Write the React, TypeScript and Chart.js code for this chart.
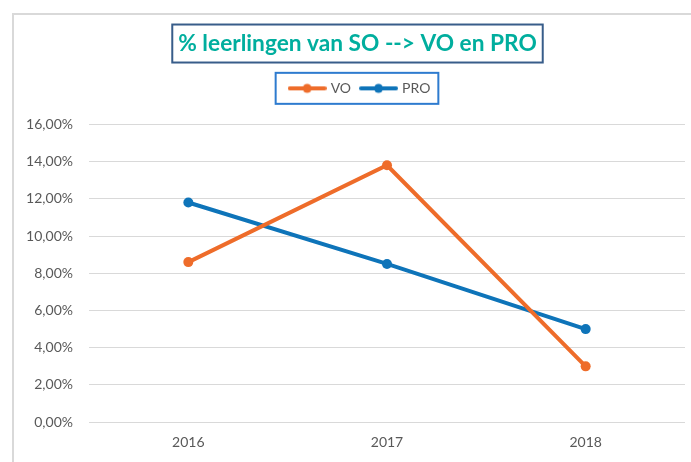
import React, { useEffect, useRef } from "react";
import { Chart, registerables } from "chart.js";

Chart.register(...registerables);

const categories = ["2016", "2017", "2018"];
const seriesNames = ["VO", "PRO"];
const voValues = [0.086, 0.138, 0.03];
const proValues = [0.118, 0.085, 0.05];
const yMin = 0;
const yMax = 0.16;
const yStep = 0.02;
const titleText = "% leerlingen van SO --> VO en PRO";

const ORANGE = "#EE6C2A";
const BLUE = "#0E74B9";
const FONT = "Lato, 'Open Sans', sans-serif";
const TITLE_SIZE = 22.7;
const TITLE_PAD_TOP = 15.9;
const TICK_COLOR = "#595959";
const SHIFT = 8;
const LEGEND_SHIFT = 11;

function makeMarker(color: string): HTMLCanvasElement {
  const c = document.createElement("canvas");
  c.width = 39;
  c.height = 12;
  const g = c.getContext("2d")!;
  g.strokeStyle = color;
  g.lineWidth = 4;
  g.lineCap = "round";
  g.beginPath();
  g.moveTo(2, 6);
  g.lineTo(37, 6);
  g.stroke();
  g.fillStyle = color;
  g.beginPath();
  g.arc(19.5, 6, 4.5, 0, Math.PI * 2);
  g.fill();
  return c;
}

function shiftDraw(box: any, dx: number) {
  if (!box) return;
  const orig = box.draw;
  box.draw = function (...args: any[]) {
    const ctx = this.ctx;
    ctx.save();
    ctx.translate(dx, 0);
    orig.apply(this, args);
    ctx.restore();
  };
}

export default function App() {
  const ref = useRef<HTMLCanvasElement | null>(null);

  useEffect(() => {
    if (!ref.current) return;
    const markers = [makeMarker(ORANGE), makeMarker(BLUE)];

    const boxesPlugin = {
      id: "boxes",
      beforeInit(chart: any) {
        const legend = chart.legend;
        if (legend) {
          const orig = legend.fit;
          legend.fit = function () {
            orig.call(this);
            this.height += 19;
          };
          shiftDraw(legend, LEGEND_SHIFT);
        }
        shiftDraw(chart.titleBlock, SHIFT);
      },
      beforeDraw(chart: any) {
        const ctx = chart.ctx;
        ctx.save();
        ctx.fillStyle = "#ffffff";
        ctx.fillRect(0, 0, chart.width, chart.height);
        ctx.strokeStyle = "#D9D9D9";
        ctx.lineWidth = 2;
        ctx.beginPath();
        ctx.moveTo(13, chart.height + 2);
        ctx.lineTo(13, 14);
        ctx.lineTo(chart.width + 2, 14);
        ctx.stroke();
        ctx.restore();
      },
      afterDraw(chart: any) {
        const ctx = chart.ctx;
        ctx.save();
        const t = chart.titleBlock;
        if (t) {
          ctx.font = `bold ${TITLE_SIZE}px ${FONT}`;
          const w = ctx.measureText(titleText).width;
          const cx = (t.left + t.right) / 2 + SHIFT;
          const cy = t.top + TITLE_PAD_TOP + (TITLE_SIZE * 1.2) / 2;
          ctx.strokeStyle = "#385D8A";
          ctx.lineWidth = 2;
          ctx.strokeRect(cx - w / 2 - 6, cy - 19, w + 12, 38);
        }
        const lg = chart.legend;
        if (lg && lg.legendHitBoxes && lg.legendHitBoxes.length) {
          const hb = lg.legendHitBoxes;
          const left = hb[0].left + LEGEND_SHIFT - 3;
          const last = hb[hb.length - 1];
          const right = last.left + last.width + LEGEND_SHIFT;
          const cy = hb[0].top + hb[0].height / 2;
          ctx.strokeStyle = "#2E7BCF";
          ctx.lineWidth = 2;
          ctx.strokeRect(left - 12, cy - 15.5, right - left + 20, 31);
        }
        ctx.restore();
      },
    };

    const chart = new Chart(ref.current, {
      type: "line",
      data: {
        labels: categories,
        datasets: [
          {
            label: seriesNames[0],
            data: voValues,
            borderColor: ORANGE,
            backgroundColor: ORANGE,
            borderWidth: 4,
            pointRadius: 5,
            pointBackgroundColor: ORANGE,
            pointBorderWidth: 0,
            tension: 0,
          },
          {
            label: seriesNames[1],
            data: proValues,
            borderColor: BLUE,
            backgroundColor: BLUE,
            borderWidth: 4,
            pointRadius: 5,
            pointBackgroundColor: BLUE,
            pointBorderWidth: 0,
            tension: 0,
          },
        ],
      },
      options: {
        animation: false,
        responsive: false,
        maintainAspectRatio: false,
        layout: { padding: { left: 14, right: 6, top: 14, bottom: -1 } },
        plugins: {
          title: {
            display: true,
            text: titleText,
            color: "#00AE9E",
            font: { family: FONT, size: TITLE_SIZE, weight: "bold" },
            padding: { top: TITLE_PAD_TOP, bottom: 13.2 },
          },
          legend: {
            display: true,
            position: "top",
            labels: {
              usePointStyle: true,
              pointStyleWidth: 33,
              padding: 11,
              color: TICK_COLOR,
              font: { family: FONT, size: 14 },
              generateLabels: (c: any) => {
                const items = (Chart as any).defaults.plugins.legend.labels.generateLabels(c);
                return items.map((it: any, i: number) => ({
                  ...it,
                  pointStyle: markers[i],
                  fontColor: TICK_COLOR,
                }));
              },
            },
          },
          tooltip: { enabled: false },
        },
        scales: {
          x: {
            offset: true,
            grid: { display: false, drawTicks: false },
            border: { display: false },
            ticks: {
              color: TICK_COLOR,
              font: { family: FONT, size: 14 },
              padding: 12,
            },
          },
          y: {
            min: yMin,
            max: yMax,
            border: { display: false },
            grid: { color: "#D9D9D9", lineWidth: 1, drawTicks: false },
            afterFit: (s: any) => {
              s.width = 75;
            },
            ticks: {
              stepSize: yStep,
              color: TICK_COLOR,
              font: { family: FONT, size: 14 },
              padding: 16,
              callback: (v: any) => (Number(v) * 100).toFixed(2).replace(".", ",") + "%",
            },
          },
        },
      },
      plugins: [boxesPlugin],
    } as any);

    return () => chart.destroy();
  }, []);

  return (
    <div style={{ position: "fixed", left: 0, top: 0, width: 691, height: 462, background: "#fff" }}>
      <canvas ref={ref} width={691} height={462} style={{ display: "block" }} />
    </div>
  );
}
